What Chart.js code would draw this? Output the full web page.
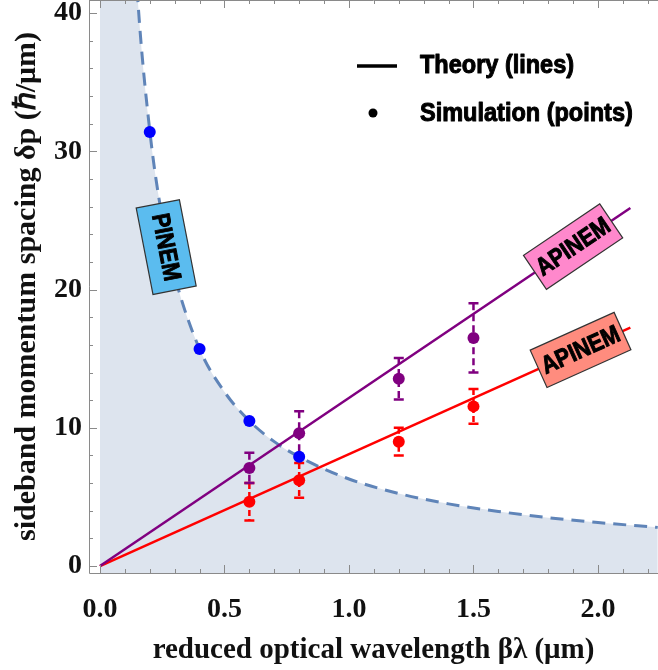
<!DOCTYPE html>
<html>
<head>
<meta charset="utf-8">
<script src="https://cdn.jsdelivr.net/npm/chart.js"></script>
<style>
  html, body { margin: 0; padding: 0; background: #fff; }
  #wrap { width: 658px; height: 670px; position: relative; }
</style>
</head>
<body>
<div id="wrap"><canvas id="chart"></canvas></div>
<script>
// PINEM boundary (dashed curve)
const curveX = [0, 0.14, 0.15, 0.2, 0.25, 0.3, 0.4, 0.5, 0.6, 0.7, 0.8, 1.0, 1.2, 1.4, 1.6, 1.8, 2.0, 2.24];
const curveY = [46, 45, 41.5, 31.5, 25.2, 21.0, 15.7, 12.6, 10.5, 9.0, 7.9, 6.3, 5.25, 4.5, 3.95, 3.5, 3.15, 2.8];

// theory lines (end points)
const lineX = [0, 2.13];
const purpleLineY = [0, 25.9];
const redLineY = [0, 17.25];

// simulation points
const pinemX = [0.2, 0.4, 0.6, 0.8];
const pinemY = [31.4, 15.7, 10.5, 7.9];

const simX = [0.6, 0.8, 1.2, 1.5];
const purpleY = [7.1, 9.6, 13.55, 16.5];
const purpleErr = [1.1, 1.6, 1.5, 2.5];
const redY = [4.65, 6.2, 9.0, 11.55];
const redErr = [1.35, 1.25, 1.0, 1.25];

const xTicks = [0, 0.5, 1.0, 1.5, 2.0];
const yTicks = [0, 10, 20, 30, 40];

const toPts = (xs, ys) => xs.map((x, i) => ({ x: x, y: ys[i] }));

const serif = "'Liberation Serif', 'Times New Roman', serif";
const sans = "'Liberation Sans', Arial, sans-serif";

// heavy condensed text (scaled horizontally, stroked for weight)
const narrowText = (ctx, text, x, y, size, sx, align) => {
    ctx.save();
    ctx.font = `bold ${size}px ${sans}`;
    ctx.textBaseline = 'middle';
    ctx.textAlign = align || 'left';
    ctx.translate(x, y);
    ctx.scale(sx, 1);
    ctx.strokeStyle = '#000';
    ctx.lineWidth = 1;
    ctx.lineJoin = 'round';
    ctx.fillText(text, 0, 0);
    ctx.strokeText(text, 0, 0);
    ctx.restore();
};

const tags = [
    { text: 'PINEM', x: 0.266, y: 23.07, angle: 79, w: 88, h: 44, color: '#5bbcef' },
    { text: 'APINEM', x: 1.9, line: purpleLineY, w: 92, h: 41, color: '#ff88cc' },
    { text: 'APINEM', x: 1.93, line: redLineY, w: 92, h: 41, color: '#ff8c7e' }
];

const overlay = {
    id: 'overlay',
    beforeDatasetDraw(chart, args) {
        const ds = chart.data.datasets[args.index];
        if (!ds.errors) return;
        const { ctx, scales: { x, y } } = chart;
        ctx.save();
        ctx.strokeStyle = ds.backgroundColor;
        ctx.lineWidth = 2.5;
        ds.data.forEach((p, i) => {
            const px = x.getPixelForValue(p.x);
            const top = y.getPixelForValue(p.y + ds.errors[i]);
            const bot = y.getPixelForValue(p.y - ds.errors[i]);
            ctx.setLineDash(ds.errDash);
            ctx.beginPath();
            ctx.moveTo(px, top);
            ctx.lineTo(px, bot);
            ctx.stroke();
            ctx.setLineDash([]);
            ctx.beginPath();
            ctx.moveTo(px - 5, top); ctx.lineTo(px + 5, top);
            ctx.moveTo(px - 5, bot); ctx.lineTo(px + 5, bot);
            ctx.stroke();
        });
        ctx.restore();
    },
    afterDatasetsDraw(chart) {
        const { ctx, chartArea: a, scales: { x, y } } = chart;
        ctx.save();

        // frame and inward ticks
        ctx.strokeStyle = '#8a8a8a';
        ctx.lineWidth = 1;
        ctx.beginPath();
        ctx.moveTo(a.left + 0.5, a.top); ctx.lineTo(a.left + 0.5, a.bottom + 0.5);
        ctx.lineTo(a.right, a.bottom + 0.5);
        ctx.moveTo(a.left, a.top + 0.5); ctx.lineTo(a.right, a.top + 0.5);
        for (let v = 0; v <= 22; v++) {
            const px = Math.round(x.getPixelForValue(v / 10)) + 0.5;
            const len = v % 5 === 0 ? 8 : 4;
            ctx.moveTo(px, a.bottom); ctx.lineTo(px, a.bottom - len);
            ctx.moveTo(px, a.top); ctx.lineTo(px, a.top + len);
        }
        for (let v = 0; v <= 40; v += 2) {
            const py = Math.round(y.getPixelForValue(v)) + 0.5;
            const len = v % 10 === 0 ? 8 : 4;
            ctx.moveTo(a.left, py); ctx.lineTo(a.left + len, py);
        }
        ctx.stroke();

        // rotated label boxes
        tags.forEach(t => {
            let cy, ang;
            if (t.line) {
                const yv = t.line[0] + (t.line[1] - t.line[0]) * (t.x - lineX[0]) / (lineX[1] - lineX[0]);
                cy = y.getPixelForValue(yv);
                const dx = x.getPixelForValue(lineX[1]) - x.getPixelForValue(lineX[0]);
                const dy = y.getPixelForValue(t.line[1]) - y.getPixelForValue(t.line[0]);
                ang = Math.atan2(dy, dx);
            } else {
                cy = y.getPixelForValue(t.y);
                ang = t.angle * Math.PI / 180;
            }
            const cx = x.getPixelForValue(t.x);
            ctx.save();
            ctx.translate(cx, cy);
            ctx.rotate(ang);
            ctx.fillStyle = t.color;
            ctx.strokeStyle = '#333';
            ctx.lineWidth = 1.2;
            ctx.fillRect(-t.w / 2, -t.h / 2, t.w, t.h);
            ctx.strokeRect(-t.w / 2, -t.h / 2, t.w, t.h);
            ctx.fillStyle = '#000';
            narrowText(ctx, t.text, 0, 1, 25, 0.86, 'center');
            ctx.restore();
        });

        // legend
        ctx.strokeStyle = '#000';
        ctx.lineWidth = 3.5;
        ctx.beginPath();
        ctx.moveTo(357, 66); ctx.lineTo(397, 66);
        ctx.stroke();
        ctx.fillStyle = '#000';
        ctx.beginPath();
        ctx.arc(373, 113, 4.5, 0, Math.PI * 2);
        ctx.fill();
        narrowText(ctx, 'Theory (lines)', 420, 66, 25, 0.94);
        narrowText(ctx, 'Simulation (points)', 420, 114, 25, 0.94);

        ctx.restore();
    }
};

new Chart(document.getElementById('chart'), {
    type: 'scatter',
    data: {
        datasets: [
            {
                data: toPts(pinemX, pinemY),
                backgroundColor: '#0000ff', borderColor: '#0000ff',
                pointRadius: 6, pointBorderWidth: 0, order: 1
            },
            {
                data: toPts(simX, purpleY), errors: purpleErr, errDash: [7, 4],
                backgroundColor: '#800080', borderColor: '#800080',
                pointRadius: 6, pointBorderWidth: 0, order: 2
            },
            {
                data: toPts(simX, redY), errors: redErr, errDash: [6, 3],
                backgroundColor: '#ff0000', borderColor: '#ff0000',
                pointRadius: 6, pointBorderWidth: 0, order: 3
            },
            {
                data: toPts(lineX, purpleLineY), showLine: true,
                borderColor: '#800080', borderWidth: 2.5, pointRadius: 0, order: 4
            },
            {
                data: toPts(lineX, redLineY), showLine: true,
                borderColor: '#ff0000', borderWidth: 2.5, pointRadius: 0, order: 5
            },
            {
                data: toPts(curveX, curveY), showLine: true,
                borderColor: '#5f84b8', borderWidth: 3, borderDash: [13, 8],
                cubicInterpolationMode: 'monotone',
                fill: 'start', backgroundColor: '#dde4ee',
                pointRadius: 0, order: 6
            }
        ]
    },
    options: {
        responsive: true,
        maintainAspectRatio: false,
        animation: false,
        layout: { padding: 0, autoPadding: false },
        plugins: { legend: { display: false }, tooltip: { enabled: false } },
        scales: {
            x: {
                type: 'linear', min: -0.044, max: 2.241,
                afterBuildTicks: s => { s.ticks = xTicks.map(v => ({ value: v })); },
                afterFit: s => { s.height = 97; s.paddingLeft = 0; s.paddingRight = 0; },
                grid: { display: false, drawTicks: false },
                border: { display: false },
                ticks: {
                    padding: 20, color: '#111', maxRotation: 0,
                    font: { family: serif, size: 28, weight: 'bold' },
                    callback: v => v.toFixed(1)
                },
                title: {
                    display: true, text: 'reduced optical wavelength βλ (μm)', color: '#111',
                    font: { family: serif, size: 29, weight: 'bold' },
                    padding: { top: 0, bottom: 2 }
                }
            },
            y: {
                type: 'linear', min: -0.5, max: 40.94,
                afterBuildTicks: s => { s.ticks = yTicks.map(v => ({ value: v })); },
                afterFit: s => { s.width = 89; s.paddingTop = 0; s.paddingBottom = 0; },
                grid: { display: false, drawTicks: false },
                border: { display: false },
                ticks: {
                    padding: 7, color: '#111',
                    font: { family: serif, size: 28, weight: 'bold' }
                },
                title: {
                    display: true, text: 'sideband momentum spacing δp (ℏ/μm)', color: '#111',
                    font: { family: serif, size: 30, weight: 'bold' },
                    padding: { top: 9, bottom: 0 }
                }
            }
        }
    },
    plugins: [overlay]
});
</script>
</body>
</html>
